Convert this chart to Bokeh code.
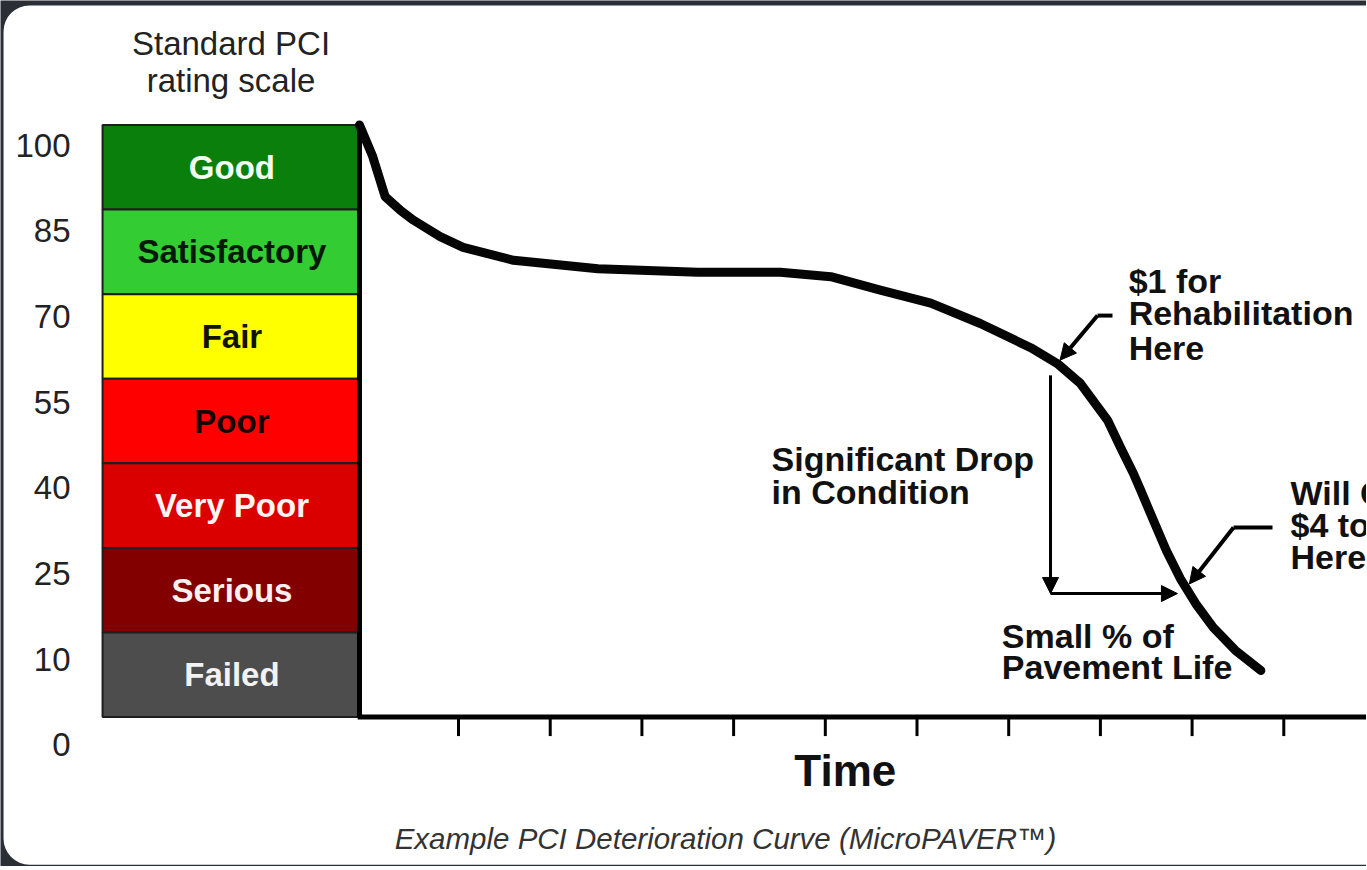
import numpy as np
from bokeh.plotting import figure
from bokeh.models import (ColumnDataSource, Arrow, NormalHead, Range1d, BoxAnnotation)
from bokeh.core.properties import value
from bokeh.embed import file_html
from bokeh.resources import INLINE

# ---------------- data ----------------
# Standard PCI rating scale (top to bottom)
band_names = ["Good", "Satisfactory", "Fair", "Poor", "Very Poor", "Serious", "Failed"]
band_colors = ["#0b7f0b", "#33cc33", "#ffff00", "#ff0000", "#da0000", "#820000", "#4d4d4d"]
band_text_colors = ["#f4fff4", "#061806", "#121200", "#1a0000", "#fff4f4", "#fff0f0", "#f2f2f2"]
band_upper = [100, 85, 70, 55, 40, 25, 10]
band_lower = [85, 70, 55, 40, 25, 10, 0]
scale_ticks = [100, 85, 70, 55, 40, 25, 10, 0]

# Example deterioration curve (time units, PCI)
time = [-0.08, 0.06, 0.20, 0.37, 0.51, 0.80, 1.05, 1.60, 2.52, 3.61, 4.51,
        5.06, 5.60, 6.15, 6.69, 7.24, 7.53, 7.78, 8.08, 8.22, 8.36, 8.44,
        8.58, 8.72, 8.87, 9.04, 9.23, 9.47, 9.75]
pci = [100.0, 94.6, 87.3, 84.8, 83.1, 80.2, 78.3, 76.0, 74.5, 73.9, 73.9,
       73.1, 70.7, 68.4, 64.8, 60.5, 57.7, 54.2, 47.6, 42.8, 38.2, 35.2,
       29.8, 24.5, 19.6, 15.1, 10.9, 7.9, 5.5]

time_ticks = [1, 2, 3, 4, 5, 6, 7, 8, 9, 10]

# ---------------- helpers ----------------
BOUNDS = [0, 10, 25, 40, 55, 70, 85, 100]


def to_scale(v):
    """Map PCI onto the equal-height rating scale."""
    return np.interp(v, BOUNDS, np.arange(len(BOUNDS)))


FONT = "Liberation Sans"
SCALE_LEFT, SCALE_RIGHT = -2.882, -0.08
X_END = 10.902
TICK_LEN = 0.225

p = figure(frame_width=1366, frame_height=866,
           x_range=Range1d(-3.995, X_END), y_range=Range1d(-1.767, 8.472),
           output_backend="svg", toolbar_location=None, title=None,
           x_axis_location=None, y_axis_location=None,
           min_border=0, min_border_left=0, min_border_right=0,
           min_border_top=0, min_border_bottom=0)
p.outline_line_color = None
p.xgrid.visible = False
p.ygrid.visible = False
p.background_fill_color = "#2a2f36"
p.border_fill_color = "#2a2f36"

# white rounded card behind the chart
p.add_layout(BoxAnnotation(left=-3.962, right=12.0, top=8.413, bottom=-1.745,
                           fill_color="white", fill_alpha=1.0, line_color=None,
                           border_radius=26, level="underlay"))

# ---------------- rating scale bar ----------------
n = len(band_names)
band_src = ColumnDataSource(dict(
    name=band_names, color=band_colors, tcolor=band_text_colors,
    top=to_scale(band_upper), bottom=to_scale(band_lower),
    mid=(to_scale(band_upper) + to_scale(band_lower)) / 2,
    left=[SCALE_LEFT] * n, right=[SCALE_RIGHT] * n,
    cx=[(SCALE_LEFT + SCALE_RIGHT) / 2 + 0.01] * n,
))
p.quad(left="left", right="right", top="top", bottom="bottom", source=band_src,
       fill_color="color", line_color="#1e1e1e", line_width=2)
p.text(x="cx", y="mid", text="name", source=band_src, text_color="tcolor",
       text_font=value(FONT), text_font_style="bold", text_font_size="33px",
       text_align="center", text_baseline="middle")

# scale title
p.text(x=[(SCALE_LEFT + SCALE_RIGHT) / 2] * 2, y=[7.96, 7.53],
       text=["Standard PCI", "rating scale"], text_font=value(FONT),
       text_font_size="33px", text_color="#222222",
       text_align="center", text_baseline="middle")

# y tick labels (left of the scale bar)
p.text(x=[-3.231] * len(scale_ticks), y=to_scale(scale_ticks) * 1.013 - 0.33,
       text=[str(v) for v in scale_ticks], text_font=value(FONT),
       text_font_size="33px", text_color="#222222", text_align="right",
       text_baseline="middle")

# vertical axis line at the right of the bar
p.segment(x0=[SCALE_RIGHT], y0=[0], x1=[SCALE_RIGHT], y1=[to_scale(100)],
          line_color="black", line_width=5)

# time axis line and ticks
p.segment(x0=[SCALE_RIGHT - 0.02], y0=[0], x1=[X_END], y1=[0],
          line_color="black", line_width=5)
p.segment(x0=time_ticks, y0=[0] * len(time_ticks), x1=time_ticks,
          y1=[-TICK_LEN] * len(time_ticks), line_color="black", line_width=3)
p.text(x=[5.218], y=[-0.633], text=["Time"], text_font=value(FONT),
       text_font_style="bold", text_font_size="44px", text_color="#111111",
       text_align="center", text_baseline="middle")
p.text(x=[3.912], y=[-1.437],
       text=["Example PCI Deterioration Curve (MicroPAVER\u2122)"],
       text_font=value(FONT), text_font_style="italic", text_font_size="29.5px",
       text_color="#333333", text_align="center", text_baseline="middle")

# ---------------- curve ----------------
p.line(x=time, y=to_scale(pci), line_color="#050505", line_width=9,
       line_join="round", line_cap="round")

# ---------------- annotations ----------------
def polyline_arrow(pts, lw=3):
    xs = [q[0] for q in pts]
    ys = [to_scale(q[1]) for q in pts]
    if len(pts) > 2:
        p.line(x=xs[:-1], y=ys[:-1], line_color="black", line_width=lw)
    p.add_layout(Arrow(x_start=xs[-2], y_start=ys[-2], x_end=xs[-1], y_end=ys[-1],
                       line_color="black", line_width=lw,
                       end=NormalHead(size=16, fill_color="black",
                                      line_color="black", line_width=1)))


polyline_arrow([(8.132, 66.2), (7.969, 66.2), (7.56, 58.3)], lw=4)
polyline_arrow([(7.456, 55.6), (7.456, 16.9)], lw=3)
polyline_arrow([(7.456, 16.9), (8.84, 16.9)], lw=3)
polyline_arrow([(9.877, 28.6), (9.452, 28.6), (8.97, 18.6)], lw=4)

notes_x = [8.308, 8.308, 8.308, 4.414, 4.414, 6.925, 6.925, 10.073, 10.073, 10.073]
notes_y = [72.4, 66.6, 60.5, 40.8, 35.0, 9.6, 5.9, 34.8, 29.0, 23.3]
notes_t = ["$1 for", "Rehabilitation", "Here", "Significant Drop", "in Condition",
           "Small % of", "Pavement Life", "Will Cost", "$4 to $5", "Here"]
p.text(x=notes_x, y=to_scale(notes_y), text=notes_t, text_font=value(FONT),
       text_font_style="bold", text_font_size="34px", text_color="#111111",
       text_align="left", text_baseline="middle")

open("out.html", "w").write(file_html(p, INLINE))
